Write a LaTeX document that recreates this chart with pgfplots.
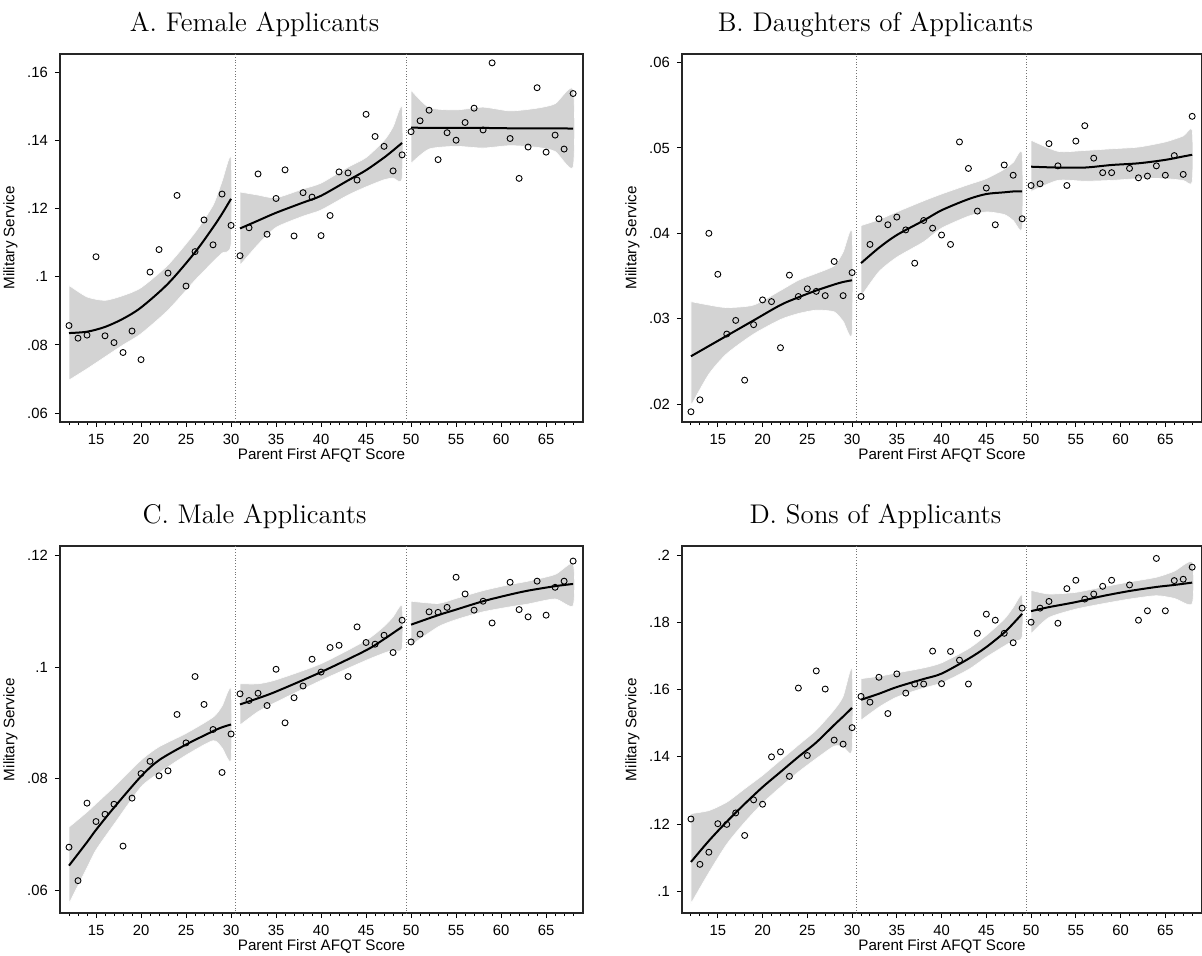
\documentclass[border=0pt]{standalone}
\usepackage{fontspec}
\setsansfont{Liberation Sans}
\usepackage{pgfplots}
\pgfplotsset{compat=1.18}
\usepackage{pgfplotstable}
\definecolor{bandgray}{RGB}{211,211,211}

% ---------------- Panel A ----------------
\pgfplotstableread{
x y
12 .0857
13 .0820
14 .0829
15 .1059
16 .0827
17 .0807
18 .0778
19 .0841
20 .0757
21 .1014
22 .1080
23 .1011
24 .1239
25 .0973
26 .1074
27 .1167
28 .1094
29 .1243
30 .1151
31 .1062
32 .1144
33 .1302
34 .1125
35 .1230
36 .1314
37 .1120
38 .1247
39 .1234
40 .1121
41 .1180
42 .1308
43 .1305
44 .1284
45 .1477
46 .1412
47 .1383
48 .1311
49 .1358
50 .1426
51 .1458
52 .1489
53 .1344
54 .1423
55 .1401
56 .1453
57 .1495
58 .1431
59 .1628
61 .1406
62 .1289
63 .1381
64 .1555
65 .1366
66 .1416
67 .1375
68 .1538
}\scatA
% fitted line: x f ; band polygon: upper left->right, lower right->left
\pgfplotstableread{
x f
12 .0835
14 .0839
16 .0853
18 .0877
20 .0910
23 .0980
26 .1072
28 .1145
29 .1185
30 .1229
}\Aone
\pgfplotstableread{
x y
12 .0975
14 .0941
16 .0931
18 .0945
20 .0968
23 .1035
26 .1130
28 .1210
29 .1280
30 .1350
30 .1095
29 .1070
28 .1044
26 .0990
23 .0902
20 .0833
18 .0800
16 .0765
14 .0730
12 .0697
}\Aonep
\pgfplotstableread{
x f
31 .1142
33 .1165
35 .1188
38 .1218
40 .1238
43 .1283
45 .1313
47 .1350
48 .1371
49 .1393
}\Atwo
\pgfplotstableread{
x y
31 .1249
33 .1240
35 .1232
38 .1258
40 .1275
43 .1322
45 .1350
47 .1400
48 .1440
49 .1499
49 .1289
48 .1290
47 .1285
45 .1264
43 .1240
40 .1196
38 .1178
35 .1145
33 .1095
31 .1034
}\Atwop
\pgfplotstableread{
x f
50 .1438
52 .1437
55 .1437
58 .1437
61 .1436
64 .1436
66 .1436
68 .1435
}\Athree
\pgfplotstableread{
x y
50 .1548
52 .1497
55 .1490
58 .1498
61 .1487
64 .1495
66 .1508
68 .1550
68 .1322
66 .1368
64 .1380
61 .1385
58 .1378
55 .1383
52 .1375
50 .1333
}\Athreep

% ---------------- Panel B ----------------
\pgfplotstableread{
x y
12 .0191
13 .0205
14 .0400
15 .0352
16 .0282
17 .0298
18 .0228
19 .0293
20 .0322
21 .0320
22 .0266
23 .0351
24 .0326
25 .0335
26 .0332
27 .0327
28 .0367
29 .0327
30 .0354
31 .0326
32 .0387
33 .0417
34 .0410
35 .0419
36 .0404
37 .0365
38 .0415
39 .0406
40 .0398
41 .0387
42 .0507
43 .0476
44 .0426
45 .0453
46 .0410
47 .0480
48 .0468
49 .0417
50 .0456
51 .0458
52 .0505
53 .0479
54 .0456
55 .0508
56 .0526
57 .0488
58 .0471
59 .0471
61 .0476
62 .0465
63 .0467
64 .0479
65 .0468
66 .0491
67 .0469
68 .0537
}\scatB
\pgfplotstableread{
x f
12 .0256
14 .0268
16 .0280
19 .0298
22 .0316
24 .0325
26 .0333
28 .0340
29 .0343
30 .0345
}\Bone
\pgfplotstableread{
x y
12 .0320
14 .0316
16 .0313
19 .0316
22 .0333
24 .0345
26 .0353
28 .0362
29 .0378
30 .0402
30 .0282
29 .0297
28 .0308
26 .0310
24 .0306
22 .0299
19 .0282
16 .0259
14 .0235
12 .0198
}\Bonep
\pgfplotstableread{
x f
31 .0365
33 .0383
35 .0398
38 .0415
40 .0427
43 .0440
45 .0446
47 .0448
48 .0449
49 .0449
}\Btwo
\pgfplotstableread{
x y
31 .0409
33 .0416
35 .0425
38 .0438
40 .0446
43 .0457
45 .0464
47 .0475
48 .0483
49 .0494
49 .0406
48 .0415
47 .0422
45 .0425
43 .0420
40 .0406
38 .0390
35 .0372
33 .0355
31 .0326
}\Btwop
\pgfplotstableread{
x f
50 .0478
53 .0477
56 .0477
59 .0480
62 .0482
65 .0486
67 .0490
68 .0492
}\Bthree
\pgfplotstableread{
x y
50 .0509
53 .0496
56 .0497
59 .0499
62 .0501
65 .0507
67 .0514
68 .0521
68 .0460
67 .0462
65 .0464
62 .0464
59 .0462
56 .0461
53 .0462
50 .0449
}\Bthreep

% ---------------- Panel C ----------------
\pgfplotstableread{
x y
12 .0677
13 .0617
14 .0756
15 .0723
16 .0736
17 .0754
18 .0679
19 .0765
20 .0809
21 .0831
22 .0805
23 .0814
24 .0915
25 .0864
26 .0983
27 .0933
28 .0888
29 .0811
30 .0880
31 .0952
32 .0940
33 .0953
34 .0931
35 .0996
36 .0900
37 .0945
38 .0966
39 .1014
40 .0991
41 .1035
42 .1039
43 .0983
44 .1072
45 .1044
46 .1041
47 .1057
48 .1026
49 .1084
50 .1045
51 .1059
52 .1099
53 .1098
54 .1107
55 .1161
56 .1131
57 .1102
58 .1118
59 .1079
61 .1152
62 .1103
63 .1090
64 .1154
65 .1093
66 .1143
67 .1154
68 .1190
}\scatC
\pgfplotstableread{
x f
12 .0644
14 .0686
15 .0708
17 .0748
20 .0804
22 .0833
25 .0861
28 .0885
29 .0892
30 .0897
}\Cone
\pgfplotstableread{
x y
12 .0713
14 .0740
15 .0755
17 .0785
20 .0833
22 .0857
25 .0881
28 .0910
29 .0930
30 .0961
30 .0833
29 .0855
28 .0868
25 .0842
22 .0810
20 .0785
17 .0718
15 .0672
14 .0640
12 .0576
}\Conep
\pgfplotstableread{
x f
31 .0933
33 .0944
35 .0956
40 .0991
45 .1030
47 .1050
48 .1061
49 .1072
}\Ctwo
\pgfplotstableread{
x y
31 .0970
33 .0970
35 .0977
40 .1006
45 .1048
47 .1073
48 .1090
49 .1110
49 .1033
48 .1030
47 .1025
45 .1012
40 .0976
35 .0937
33 .0920
31 .0896
}\Ctwop
\pgfplotstableread{
x f
50 .1076
53 .1093
55 .1103
58 .1118
61 .1130
63 .1137
66 .1145
68 .1149
}\Cthree
\pgfplotstableread{
x y
50 .1118
53 .1114
55 .1123
58 .1137
61 .1148
63 .1154
66 .1166
68 .1185
68 .1110
66 .1122
63 .1113
61 .1108
58 .1099
55 .1085
53 .1072
50 .1039
}\Cthreep

% ---------------- Panel D ----------------
\pgfplotstableread{
x y
12 .1215
13 .1080
14 .1116
15 .1201
16 .1199
17 .1233
18 .1166
19 .1272
20 .1259
21 .1400
22 .1415
23 .1342
24 .1605
25 .1404
26 .1656
27 .1602
28 .1450
29 .1438
30 .1487
31 .1580
32 .1563
33 .1637
34 .1529
35 .1647
36 .1590
37 .1617
38 .1617
39 .1715
40 .1618
41 .1714
42 .1688
43 .1617
44 .1768
45 .1825
46 .1807
47 .1768
48 .1740
49 .1843
50 .1801
51 .1843
52 .1863
53 .1798
54 .1901
55 .1926
56 .1870
57 .1885
58 .1908
59 .1926
61 .1912
62 .1807
63 .1835
64 .1991
65 .1835
66 .1925
67 .1929
68 .1965
}\scatD
\pgfplotstableread{
x f
12 .1087
14 .1150
16 .1207
18 .1260
20 .1310
22 .1355
24 .1400
26 .1443
28 .1495
29 .1520
30 .1546
}\Done
\pgfplotstableread{
x y
12 .1231
14 .1240
16 .1265
18 .1305
20 .1345
22 .1390
24 .1435
26 .1480
28 .1540
29 .1580
30 .1663
30 .1420
29 .1430
28 .1432
26 .1395
24 .1355
22 .1310
20 .1262
18 .1205
16 .1140
14 .1055
12 .0963
}\Donep
\pgfplotstableread{
x f
31 .1570
33 .1588
35 .1608
38 .1632
40 .1648
43 .1692
45 .1727
47 .1770
48 .1797
49 .1826
}\Dtwo
\pgfplotstableread{
x y
31 .1633
33 .1640
35 .1650
38 .1665
40 .1680
43 .1722
45 .1762
47 .1810
48 .1845
49 .1881
49 .1757
48 .1745
47 .1730
45 .1697
43 .1660
40 .1620
38 .1605
35 .1578
33 .1548
31 .1509
}\Dtwop
\pgfplotstableread{
x f
50 .1834
52 .1846
55 .1861
58 .1879
61 .1894
64 .1906
66 .1912
68 .1919
}\Dthree
\pgfplotstableread{
x y
50 .1896
52 .1885
55 .1890
58 .1906
61 .1921
64 .1935
66 .1953
68 .1980
68 .1856
66 .1872
64 .1880
61 .1870
58 .1856
55 .1840
52 .1815
50 .1767
}\Dthreep

\newcommand{\band}[1]{%
  \addplot[fill=bandgray, draw=white, line width=0.3pt, smooth, tension=0.4, forget plot] table[x=x,y=y]{#1} -- cycle;
}
\newcommand{\fit}[1]{%
  \addplot[smooth, line width=1pt, black, forget plot] table[x=x,y=f]{#1};
}
\newcommand{\cutoffs}{%
  \addplot[densely dotted, black!55, line width=0.4pt, forget plot] coordinates {(30.5,0) (30.5,0.5)};
  \addplot[densely dotted, black!55, line width=0.4pt, forget plot] coordinates {(49.5,0) (49.5,0.5)};
}
\newcommand{\scat}[1]{%
  \addplot[only marks, mark=o, mark size=1.5pt, mark options={line width=0.45pt, black}, forget plot] table[x=x,y=y]{#1};
}

\pgfplotsset{
  panel/.style={
    scale only axis,
    anchor=south west,
    xmin=11, xmax=69.1,
    xtick={15,20,25,30,35,40,45,50,55,60,65},
    xticklabels={15,20,25,30,35,40,45,50,55,60,65},
    minor xtick={12,...,68},
    scaled y ticks=false,
    tick align=outside,
    xtick pos=left, ytick pos=left,
    major tick length=2.6pt, minor tick length=1.6pt,
    every tick/.style={black, line width=0.5pt},
    axis line style={black!85, line width=0.6pt},
    tick label style={font=\sffamily\fontsize{7.4}{8}\selectfont},
    label style={font=\sffamily\fontsize{7.6}{8}\selectfont},
    xlabel={Parent First AFQT Score},
    ylabel={Military Service},
    xlabel style={yshift=5pt},
    ylabel style={yshift=-2pt},
    title style={at={(0.372,1)}, anchor=base, yshift=5.1pt, font=\fontsize{13.5}{16}\selectfont},
  }
}

\begin{document}
\begin{tikzpicture}
\useasboundingbox (0,0) rectangle (601pt,477.5pt);

% A
\begin{axis}[panel, at={(30pt,266.5pt)}, width=261.5pt, height=184pt,
  ymin=.0574, ymax=.1654,
  ytick={.06,.08,.1,.12,.14,.16}, yticklabels={.06,.08,.1,.12,.14,.16},
  title={A. Female Applicants}]
  \band{\Aonep}\band{\Atwop}\band{\Athreep}
  \cutoffs
  \scat{\scatA}
  \fit{\Aone}\fit{\Atwo}\fit{\Athree}
\end{axis}

% B
\begin{axis}[panel, at={(341pt,266.5pt)}, width=260pt, height=184pt,
  ymin=.0179, ymax=.0610,
  ytick={.02,.03,.04,.05,.06}, yticklabels={.02,.03,.04,.05,.06},
  title={B. Daughters of Applicants}]
  \band{\Bonep}\band{\Btwop}\band{\Bthreep}
  \cutoffs
  \scat{\scatB}
  \fit{\Bone}\fit{\Btwo}\fit{\Bthree}
\end{axis}

% C
\begin{axis}[panel, at={(30pt,21pt)}, width=261.5pt, height=183.5pt,
  ymin=.0559, ymax=.1217,
  ytick={.06,.08,.1,.12}, yticklabels={.06,.08,.1,.12},
  title={C. Male Applicants}]
  \band{\Conep}\band{\Ctwop}\band{\Cthreep}
  \cutoffs
  \scat{\scatC}
  \fit{\Cone}\fit{\Ctwo}\fit{\Cthree}
\end{axis}

% D
\begin{axis}[panel, at={(341pt,21pt)}, width=260pt, height=183.5pt,
  ymin=.0935, ymax=.2028,
  ytick={.1,.12,.14,.16,.18,.2}, yticklabels={.1,.12,.14,.16,.18,.2},
  title={D. Sons of Applicants}]
  \band{\Donep}\band{\Dtwop}\band{\Dthreep}
  \cutoffs
  \scat{\scatD}
  \fit{\Done}\fit{\Dtwo}\fit{\Dthree}
\end{axis}
\end{tikzpicture}
\end{document}
